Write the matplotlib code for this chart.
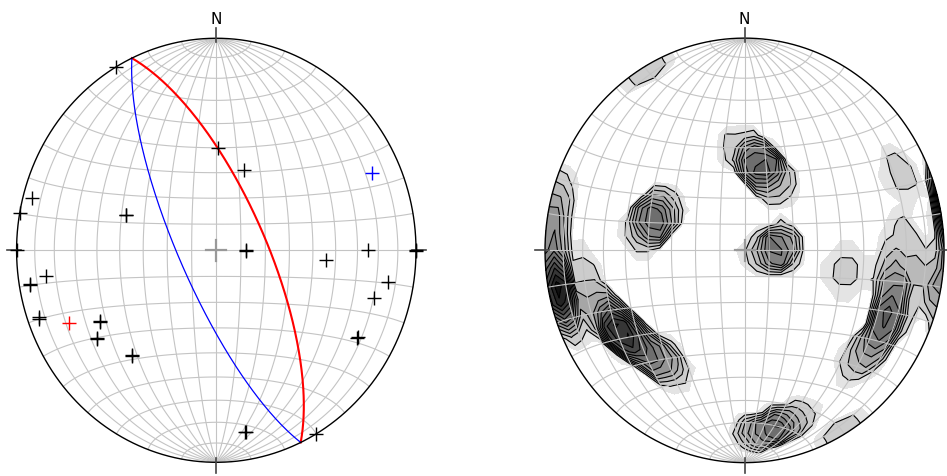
import numpy as np
import matplotlib
matplotlib.use("Agg")
import matplotlib.pyplot as plt

# poles to fractures plotted on the left net (trend, plunge in degrees)
pole_trend = [330, 1, 20, 285, 280, 290, 290.4, 270, 90, 90.4, 90, 90, 90.3, 95, 262, 260, 260.4,
              100, 106, 250, 250.4, 240, 240.4, 235, 235.4, 120, 120.4, 220, 220.4, 170, 170.4, 150]
pole_plunge = [0, 50, 57, 5, 0, 50, 50.3, 0, 78, 78, 25, 0, 0, 44, 15, 6, 6.3,
               14, 19, 6, 6.3, 33, 33.3, 28, 28.3, 19, 19.3, 35, 35.3, 14, 14.3, 0]

# fault planes: dip direction / dip, drawn as great circles with their poles
plane_dipdir = [65, 245]
plane_dip = [70, 75]
plane_colors = ["red", "blue"]

# joint poles used for the density contours on the right net
joint_trend = [100, 94, 88, 84, 82, 86,
               357, 6, 8, 9, 11, 13, 17, 22, 26,
               280, 284, 287, 288, 290, 292, 297,
               285, 282, 279, 276, 272, 268, 265, 263, 262, 260, 259, 258, 257, 256, 255, 254, 252, 250,
               262, 252,
               249, 246, 244, 242, 240, 238, 238, 237, 236, 234, 232, 229, 226, 222, 220, 218, 214,
               87, 96, 100, 104, 107, 110, 112, 114, 116, 118, 121, 125, 129, 132, 96, 102,
               66, 101, 330,
               176, 174, 173, 171, 169, 166, 163]
joint_plunge = [82, 79, 77, 75, 74, 76,
                49, 53, 55, 55, 56, 57, 59, 60, 62,
                47, 48, 50, 50, 51, 52, 53,
                3, 2, 4, 2, 3, 5, 4, 6, 3, 5, 7, 4, 6, 5, 4, 7, 5, 8,
                18, 22,
                23, 25, 26, 27, 27, 28, 27, 28, 29, 30, 30, 32, 32, 33, 34, 34, 33,
                22, 26, 27, 25, 24, 23, 22, 22, 21, 22, 22, 22, 23, 24, 10, 12,
                15, 47, 0,
                15, 15, 16, 15, 16, 17, 17]

# contour levels (counts) and their fills
line_levels = [0.9, 1.9, 2.9, 3.9, 4.9, 5.9, 6.9, 7.9, 8.9, 9.9, 10.9]
fill_levels = [0.25] + line_levels + [100]

GRID = "#c4c4c4"
R_IN, R_OUT = 7.5, 9.3   # counting cone, degrees


def line_vec(trend, plunge):
    t = np.radians(np.asarray(trend, float))
    p = np.radians(np.asarray(plunge, float))
    # (down, east, north)
    return np.stack([np.sin(p), np.cos(p) * np.sin(t), np.cos(p) * np.cos(t)], axis=-1)


def project(v):
    # lower hemisphere Lambert equal-area, primitive circle of radius 1
    v = np.where(v[..., :1] < 0, -v, v)
    s = 1.0 / np.sqrt(1.0 + v[..., 0])
    return v[..., 1] * s, v[..., 2] * s


def net_vec(lon, lat):
    lon, lat = np.radians(lon), np.radians(lat)
    return np.stack([np.cos(lat) * np.cos(lon), np.cos(lat) * np.sin(lon), np.sin(lat)], axis=-1)


def draw_net(ax):
    t = np.linspace(-90, 90, 121)
    for lon in range(-80, 81, 10):
        x, y = project(net_vec(np.full_like(t, lon), t))
        ax.plot(x, y, color=GRID, lw=0.8, zorder=3)
    for lat in range(-80, 81, 10):
        x, y = project(net_vec(t, np.full_like(t, lat)))
        ax.plot(x, y, color=GRID, lw=0.8, zorder=3)
    a = np.linspace(0, 2 * np.pi, 400)
    ax.plot(np.cos(a), np.sin(a), color="black", lw=1.0, zorder=6, clip_on=False)
    # cardinal ticks
    for dx, dy in [(0, 1), (0, -1), (1, 0), (-1, 0)]:
        ax.plot([0.98 * dx, 1.05 * dx], [0.98 * dy, 1.05 * dy], color="#444444",
                lw=1.2, zorder=6, clip_on=False)
    # centre cross
    ax.plot([-0.05, 0.05], [0, 0], color="#999999", lw=1.6, zorder=4)
    ax.plot([0, 0], [-0.05, 0.05], color="#999999", lw=1.6, zorder=4)
    ax.text(0, 1.072, "N", ha="center", va="baseline", fontsize=11)
    ax.set_xlim(-1, 1)
    ax.set_ylim(-1, 1)
    ax.axis("off")


def great_circle(dipdir, dip):
    a = np.linspace(0, np.pi, 181)[:, None]
    dd, d = np.radians(dipdir), np.radians(dip)
    strike = np.array([0.0, np.sin(dd - np.pi / 2), np.cos(dd - np.pi / 2)])
    down = np.array([np.sin(d), np.cos(d) * np.sin(dd), np.cos(d) * np.cos(dd)])
    return project(np.cos(a) * strike + np.sin(a) * down)


def density(trend, plunge, n=37):
    lon, lat = np.meshgrid(np.linspace(-90, 90, n), np.linspace(-90, 90, n))
    nodes = net_vec(lon, lat)
    data = line_vec(trend, plunge)
    cosd = np.abs(nodes @ data.T)
    ang = np.degrees(np.arccos(np.clip(cosd, 0, 1)))
    w = np.clip((R_OUT - ang) / (R_OUT - R_IN), 0, 1)
    x, y = project(nodes)
    return x, y, w.sum(axis=-1)


fig = plt.figure(figsize=(9.47, 4.77), dpi=100)
ax1 = fig.add_axes([0.0175, 0.0287, 0.4218, 0.889])
ax2 = fig.add_axes([0.5755, 0.0280, 0.4214, 0.890])

# left net: poles and planes
draw_net(ax1)
px, py = project(line_vec(pole_trend, pole_plunge))
ax1.plot(px, py, "+", color="black", ms=10, mew=1.0, zorder=7, clip_on=False)
for dd, dip, c in zip(plane_dipdir, plane_dip, plane_colors):
    gx, gy = great_circle(dd, dip)
    ax1.plot(gx, gy, color=c, lw=1.5 if c == "red" else 0.9, zorder=5)
    qx, qy = project(line_vec(dd + 180, 90 - dip))
    ax1.plot(qx, qy, "+", color=c, ms=10, mew=1.0, zorder=7)

# right net: density of joint poles
draw_net(ax2)
X, Y, Z = density(joint_trend, joint_plunge)
greys = np.linspace(204, 16, len(line_levels)) / 255.0
fill_colors = [(0.894, 0.894, 0.894)] + [(g, g, g) for g in greys]
ax2.contourf(X, Y, Z, levels=fill_levels, colors=fill_colors, zorder=1)
ax2.contour(X, Y, Z, levels=line_levels, colors="black", linewidths=0.8, zorder=2)

fig.savefig("out.png", dpi=100)
